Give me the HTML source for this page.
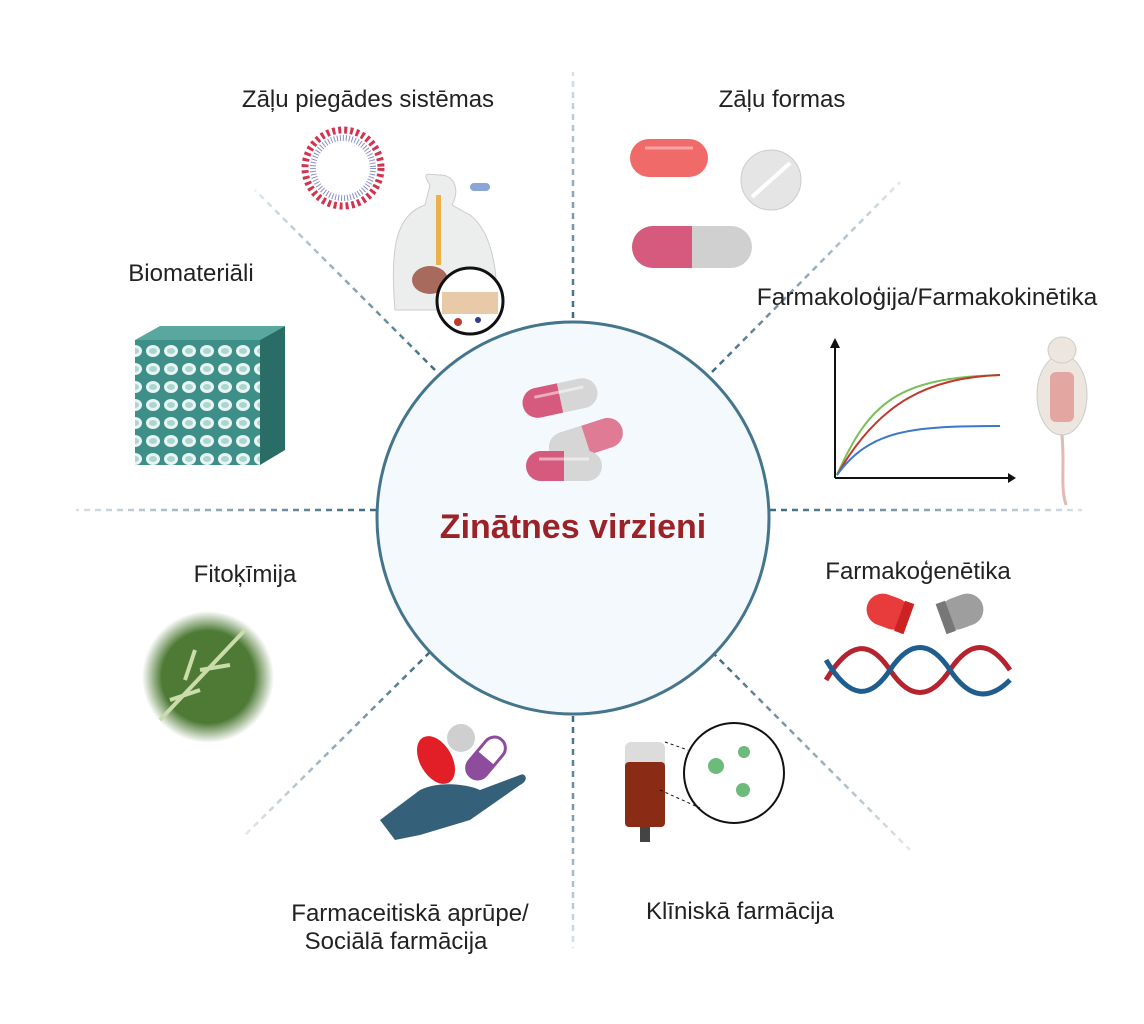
<!DOCTYPE html>
<html><head><meta charset="utf-8"><style>
html,body{margin:0;padding:0;background:#fff;}
svg{display:block;font-family:"Liberation Sans",sans-serif;}
</style></head><body>
<svg width="1144" height="1024" viewBox="0 0 1144 1024" xmlns="http://www.w3.org/2000/svg">
<defs>
<linearGradient id="gU" gradientUnits="userSpaceOnUse" x1="573" y1="318" x2="573" y2="72"><stop offset="0" stop-color="#3d6a80"/><stop offset="1" stop-color="#3d6a80" stop-opacity="0.2"/></linearGradient>
<linearGradient id="gD" gradientUnits="userSpaceOnUse" x1="573" y1="716" x2="573" y2="948"><stop offset="0" stop-color="#3d6a80"/><stop offset="1" stop-color="#3d6a80" stop-opacity="0.2"/></linearGradient>
<linearGradient id="gL" gradientUnits="userSpaceOnUse" x1="376" y1="510" x2="76" y2="510"><stop offset="0" stop-color="#3d6a80"/><stop offset="1" stop-color="#3d6a80" stop-opacity="0.2"/></linearGradient>
<linearGradient id="gR" gradientUnits="userSpaceOnUse" x1="770" y1="510" x2="1082" y2="510"><stop offset="0" stop-color="#3d6a80"/><stop offset="1" stop-color="#3d6a80" stop-opacity="0.2"/></linearGradient>
<linearGradient id="gUL" gradientUnits="userSpaceOnUse" x1="435" y1="370" x2="255" y2="190"><stop offset="0" stop-color="#3d6a80"/><stop offset="1" stop-color="#3d6a80" stop-opacity="0.15"/></linearGradient>
<linearGradient id="gUR" gradientUnits="userSpaceOnUse" x1="712" y1="372" x2="900" y2="182"><stop offset="0" stop-color="#3d6a80"/><stop offset="1" stop-color="#3d6a80" stop-opacity="0.15"/></linearGradient>
<linearGradient id="gDL" gradientUnits="userSpaceOnUse" x1="430" y1="652" x2="245" y2="835"><stop offset="0" stop-color="#3d6a80"/><stop offset="1" stop-color="#3d6a80" stop-opacity="0.15"/></linearGradient>
<linearGradient id="gDR" gradientUnits="userSpaceOnUse" x1="712" y1="652" x2="910" y2="850"><stop offset="0" stop-color="#3d6a80"/><stop offset="1" stop-color="#3d6a80" stop-opacity="0.15"/></linearGradient>
<radialGradient id="leaf" cx="0.5" cy="0.5" r="0.5"><stop offset="0.7" stop-color="#4e7a35"/><stop offset="1" stop-color="#4e7a35" stop-opacity="0"/></radialGradient>
<pattern id="foam" width="18" height="18" patternUnits="userSpaceOnUse"><rect width="18" height="18" fill="#3e8f88"/><ellipse cx="9" cy="9" rx="7" ry="6" fill="#e8f5f3"/><ellipse cx="9" cy="9" rx="4" ry="3" fill="#a9d6d0"/></pattern>
</defs>

<g stroke-width="2.5" stroke-dasharray="6 5" fill="none">
<line x1="573" y1="318" x2="573" y2="72" stroke="url(#gU)"/>
<line x1="573" y1="716" x2="573" y2="948" stroke="url(#gD)"/>
<line x1="376" y1="510" x2="76" y2="510" stroke="url(#gL)"/>
<line x1="770" y1="510" x2="1082" y2="510" stroke="url(#gR)"/>
<line x1="435" y1="370" x2="255" y2="190" stroke="url(#gUL)"/>
<line x1="712" y1="372" x2="900" y2="182" stroke="url(#gUR)"/>
<line x1="430" y1="652" x2="245" y2="835" stroke="url(#gDL)"/>
<line x1="712" y1="652" x2="910" y2="850" stroke="url(#gDR)"/>
</g>

<circle cx="573" cy="518" r="196" fill="#f3f9fc" stroke="#44758c" stroke-width="3"/>
<text x="573" y="538" text-anchor="middle" font-size="34" font-weight="bold" fill="#9b2226">Zinātnes virzieni</text>

<g transform="translate(560,398) rotate(-12)">
<rect x="-38" y="-15" width="76" height="30" rx="15" fill="#d6d6d6"/>
<path d="M-23,-15 H0 V15 H-23 A15,15 0 0 1 -23,-15 Z" fill="#d65a7d"/>
<line x1="-25" y1="-6" x2="25" y2="-6" stroke="#fff" stroke-opacity="0.5" stroke-width="3"/>
</g>
<g transform="translate(586,440) rotate(-18)">
<rect x="-38" y="-15" width="76" height="30" rx="15" fill="#e07b96"/>
<path d="M-23,-15 H0 V15 H-23 A15,15 0 0 1 -23,-15 Z" fill="#d6d6d6"/>
</g>
<g transform="translate(564,466)">
<rect x="-38" y="-15" width="76" height="30" rx="15" fill="#d6d6d6"/>
<path d="M-23,-15 H0 V15 H-23 A15,15 0 0 1 -23,-15 Z" fill="#d65a7d"/>
<line x1="-25" y1="-7" x2="25" y2="-7" stroke="#fff" stroke-opacity="0.5" stroke-width="3"/>
</g>

<g font-size="24" fill="#222" text-anchor="middle">
<text x="368" y="107">Zāļu piegādes sistēmas</text>
<text x="782" y="107">Zāļu formas</text>
<text x="191" y="281">Biomateriāli</text>
<text x="927" y="305" font-size="24.5">Farmakoloģija/Farmakokinētika</text>
<text x="245" y="582">Fitoķīmija</text>
<text x="918" y="579">Farmakoģenētika</text>
<text x="410" y="921">Farmaceitiskā aprūpe/</text>
<text x="396" y="949">Sociālā farmācija</text>
<text x="740" y="919">Klīniskā farmācija</text>
</g>

<circle cx="343" cy="168" r="38" fill="none" stroke="#d0354f" stroke-width="7" stroke-dasharray="3 3"/>
<circle cx="343" cy="168" r="30" fill="none" stroke="#8b8fc6" stroke-width="6" stroke-dasharray="1 2"/>
<path d="M395,310 C390,250 395,215 425,205 L430,185 C420,170 430,175 440,175 C455,175 460,190 452,205 L470,215 C490,230 500,270 495,310 Z" fill="#eceeee" stroke="#ccc"/>
<rect x="436" y="195" width="5" height="70" fill="#e9b24b"/>
<ellipse cx="430" cy="280" rx="18" ry="14" fill="#a86a5c"/>
<rect x="470" y="183" width="20" height="8" rx="4" fill="#8aa6d8"/>
<circle cx="470" cy="301" r="33" fill="#fff" stroke="#111" stroke-width="3"/>
<rect x="442" y="292" width="56" height="22" fill="#e8c9a8"/>
<circle cx="458" cy="322" r="4" fill="#c0392b"/><circle cx="478" cy="320" r="3" fill="#2c3e8f"/>

<rect x="630" y="139" width="78" height="38" rx="19" fill="#f06a6a"/>
<line x1="645" y1="148" x2="693" y2="148" stroke="#fff" stroke-opacity="0.4" stroke-width="3"/>
<circle cx="771" cy="180" r="30" fill="#e5e5e5" stroke="#ccc"/>
<line x1="752" y1="197" x2="790" y2="163" stroke="#fff" stroke-width="4"/>
<rect x="632" y="226" width="120" height="42" rx="21" fill="#d0d0d0"/>
<path d="M653,226 H692 V268 H653 A21,21 0 0 1 653,226 Z" fill="#d65a7d"/>

<polygon points="135,340 160,326 285,326 260,340" fill="#5aa7a0"/>
<rect x="135" y="340" width="125" height="125" fill="url(#foam)"/>
<polygon points="260,340 285,326 285,450 260,465" fill="#2a6c66"/>

<g stroke="#111" stroke-width="2" fill="none">
<line x1="835" y1="478" x2="835" y2="345"/><line x1="835" y1="478" x2="1010" y2="478"/>
</g>
<polygon points="830,348 835,338 840,348" fill="#111"/><polygon points="1008,473 1016,478 1008,483" fill="#111"/>
<path d="M837,475 C870,400 900,378 1000,375" stroke="#7bbf5a" stroke-width="2" fill="none"/>
<path d="M837,475 C880,400 930,378 1000,375" stroke="#c0392b" stroke-width="2" fill="none"/>
<path d="M837,475 C870,430 910,426 1000,426" stroke="#3a78c9" stroke-width="2" fill="none"/>
<ellipse cx="1062" cy="395" rx="25" ry="40" fill="#ece6df" stroke="#ccc"/>
<ellipse cx="1062" cy="350" rx="14" ry="13" fill="#ece6df" stroke="#ccc"/>
<rect x="1050" y="372" width="24" height="50" rx="6" fill="#e3a6a0"/>
<path d="M1062,435 C1065,470 1060,485 1066,505" stroke="#e3b9b0" stroke-width="3" fill="none"/>

<circle cx="208" cy="677" r="66" fill="url(#leaf)"/>
<path d="M160,720 L245,630 M170,700 L200,690 M200,670 L230,665 M185,680 L195,650" stroke="#c9dca9" stroke-width="4" fill="none"/>

<g transform="translate(892,613) rotate(20)"><rect x="-26" y="-16" width="44" height="32" rx="16" fill="#e83b3b"/><rect x="8" y="-16" width="10" height="32" fill="#c22"/></g>
<g transform="translate(958,613) rotate(-20)"><rect x="-18" y="-16" width="44" height="32" rx="16" fill="#9e9e9e"/><rect x="-18" y="-16" width="10" height="32" fill="#777"/></g>
<path d="M826,680 C850,640 870,640 890,670 S930,700 950,670 S990,640 1010,670" stroke="#b5232f" stroke-width="5" fill="none"/>
<path d="M826,660 C850,700 870,700 890,670 S930,640 950,670 S990,700 1010,680" stroke="#1f5d8f" stroke-width="5" fill="none"/>

<path d="M380,820 L420,790 C440,780 470,785 480,790 L520,775 C525,772 530,780 520,785 L470,820 L420,835 L395,840 Z" fill="#34607a"/>
<ellipse cx="436" cy="760" rx="16" ry="26" transform="rotate(-30 436 760)" fill="#e21f26"/>
<circle cx="461" cy="738" r="14" fill="#cfcfcf"/>
<g transform="translate(486,758) rotate(-50)"><rect x="-24" y="-11" width="48" height="22" rx="11" fill="#fff" stroke="#8e4c9c" stroke-width="3"/><path d="M-13,-11 H0 V11 H-13 A11,11 0 0 1 -13,-11 Z" fill="#8e4c9c"/></g>

<rect x="625" y="742" width="40" height="85" rx="6" fill="#dcdcdc"/>
<rect x="625" y="762" width="40" height="65" rx="4" fill="#8a2b16"/>
<rect x="640" y="827" width="10" height="15" fill="#444"/>
<circle cx="734" cy="773" r="50" fill="#fff" stroke="#111" stroke-width="2"/>
<line x1="665" y1="742" x2="688" y2="750" stroke="#111" stroke-dasharray="3 3"/>
<line x1="660" y1="790" x2="700" y2="808" stroke="#111" stroke-dasharray="3 3"/>
<circle cx="716" cy="766" r="8" fill="#6dbb7a"/><circle cx="744" cy="752" r="6" fill="#6dbb7a"/><circle cx="743" cy="790" r="7" fill="#6dbb7a"/>
</svg>
</body></html>
